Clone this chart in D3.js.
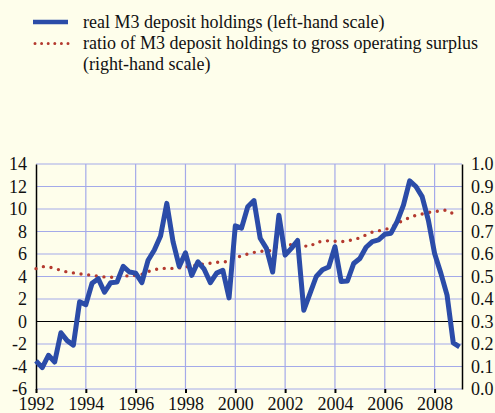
<!DOCTYPE html>
<html>
<head>
<meta charset="utf-8">
<title>M3 deposit holdings</title>
<script src="https://cdn.jsdelivr.net/npm/d3@7/dist/d3.min.js"></script>
<style>
body { margin:0; background:#fefeeb; }
text { font-family:"Liberation Serif","Times New Roman",serif; fill:#111; }
</style>
</head>
<body>
<script>
// quarterly, 1992 Q1 onwards
var startYear = 1992;
var realM3 = [-3.5,-4.1,-3.0,-3.6,-1.0,-1.7,-2.1,1.75,1.5,3.4,
  3.8,2.6,3.45,3.5,4.9,4.4,4.3,3.45,5.45,6.35,
  7.6,10.5,7.1,4.9,6.1,4.1,5.3,4.65,3.45,4.3,
  4.55,2.1,8.5,8.3,10.2,10.75,7.4,6.5,4.4,9.45,
  5.9,6.5,7.2,1.0,2.5,4.0,4.6,4.85,6.65,3.55,
  3.6,5.15,5.6,6.6,7.1,7.25,7.75,7.85,8.9,10.35,
  12.5,12.0,11.1,9.0,6.05,4.3,2.35,-1.9,-2.25];
var ratioGOS = [0.535,0.544,0.543,0.536,0.527,0.520,0.516,0.512,0.509,0.505,
  0.501,0.498,0.497,0.496,0.499,0.505,0.504,0.510,0.522,0.530,
  0.536,0.536,0.536,0.538,0.542,0.546,0.553,0.556,0.559,0.563,
  0.565,0.567,0.584,0.591,0.600,0.607,0.612,0.613,0.616,0.640,
  0.637,0.642,0.641,0.636,0.633,0.652,0.656,0.659,0.657,0.654,
  0.659,0.664,0.672,0.685,0.697,0.703,0.708,0.718,0.735,0.750,
  0.762,0.772,0.778,0.785,0.788,0.793,0.795,0.778];
var yearTicks = [1992,1994,1996,1998,2000,2002,2004,2006,2008];
var leftTicks = [-6,-4,-2,0,2,4,6,8,10,12,14];
var rightTicks = [0,0.1,0.2,0.3,0.4,0.5,0.6,0.7,0.8,0.9,1.0];
var legendLabels = ["real M3 deposit holdings (left-hand scale)",
  "ratio of M3 deposit holdings to gross operating surplus",
  "(right-hand scale)"];

var width = 495, height = 413;
// (window.top is read-only, so no "top" here)
var pLeft = 36, pRight = 462, pTop = 164, pBottom = 389;
var blue = "#2b4ca8", red = "#b43a2f", grid = "#a4aae9";
var fontSize = 18;

var svg = d3.select("body").append("svg")
  .attr("width", width)
  .attr("height", height);

svg.append("rect")
  .attr("width", width)
  .attr("height", height)
  .attr("fill", "#fefeeb");

var x = d3.scaleLinear().domain([1992, 2009.1]).range([pLeft, pRight]);
var yL = d3.scaleLinear().domain([-6, 14]).range([pBottom, pTop]);
var yR = d3.scaleLinear().domain([0, 1]).range([pBottom, pTop]);

// grid
svg.append("g").selectAll("line").data(leftTicks).enter().append("line")
  .attr("x1", pLeft).attr("x2", pRight)
  .attr("y1", function(d){ return yL(d); })
  .attr("y2", function(d){ return yL(d); })
  .attr("stroke", grid).attr("stroke-width", 1.2);
svg.append("g").selectAll("line").data(yearTicks.slice(1)).enter().append("line")
  .attr("x1", function(d){ return x(d); })
  .attr("x2", function(d){ return x(d); })
  .attr("y1", pTop).attr("y2", pBottom)
  .attr("stroke", grid).attr("stroke-width", 1.2);

// zero line
svg.append("line")
  .attr("x1", pLeft).attr("x2", pRight)
  .attr("y1", yL(0)).attr("y2", yL(0))
  .attr("stroke", "#000").attr("stroke-width", 1);

// axes (plain hyphen for negatives, like the original)
var axL = svg.append("g").attr("transform", "translate(" + pLeft + ",0)")
  .call(d3.axisLeft(yL).tickValues(leftTicks).tickSize(0).tickPadding(9)
    .tickFormat(function(d){ return String(d); }));
var axR = svg.append("g").attr("transform", "translate(" + pRight + ",0)")
  .call(d3.axisRight(yR).tickValues(rightTicks).tickSize(0).tickPadding(9)
    .tickFormat(d3.format(".1f")));
var axB = svg.append("g").attr("transform", "translate(0," + pBottom + ")")
  .call(d3.axisBottom(x).tickValues(yearTicks).tickSize(4).tickPadding(4)
    .tickFormat(d3.format("d")));

[axL, axR].forEach(function(a){
  a.select(".domain").attr("stroke", "#000").attr("stroke-width", 1.5);
});
axB.select(".domain").remove();
axB.selectAll(".tick line").attr("stroke", "#000").attr("stroke-width", 2);
svg.selectAll(".tick text")
  .attr("font-family", "Liberation Serif, Times New Roman, serif")
  .attr("font-size", fontSize).attr("fill", "#111");

// series
var qx = function(d, i){ return x(startYear + i / 4); };

svg.append("path")
  .datum(ratioGOS)
  .attr("fill", "none")
  .attr("stroke", red)
  .attr("stroke-width", 3.4)
  .attr("stroke-linecap", "round")
  .attr("stroke-dasharray", "0 7.7")
  .attr("d", d3.line().x(qx).y(function(d){ return yR(d); }));

svg.append("path")
  .datum(realM3)
  .attr("fill", "none")
  .attr("stroke", blue)
  .attr("stroke-width", 5)
  .attr("stroke-linejoin", "round")
  .attr("d", d3.line().x(qx).y(function(d){ return yL(d); }));

// legend
svg.append("line")
  .attr("x1", 33).attr("x2", 68).attr("y1", 22).attr("y2", 22)
  .attr("stroke", blue).attr("stroke-width", 4.5);
svg.append("line")
  .attr("x1", 35).attr("x2", 68).attr("y1", 43.5).attr("y2", 43.5)
  .attr("stroke", red).attr("stroke-width", 3)
  .attr("stroke-linecap", "round").attr("stroke-dasharray", "0 6.6");
svg.append("g").selectAll("text").data(legendLabels).enter().append("text")
  .attr("x", 83)
  .attr("y", function(d, i){ return 28 + i * 21; })
  .attr("font-size", fontSize)
  .text(function(d){ return d; });
</script>
</body>
</html>
